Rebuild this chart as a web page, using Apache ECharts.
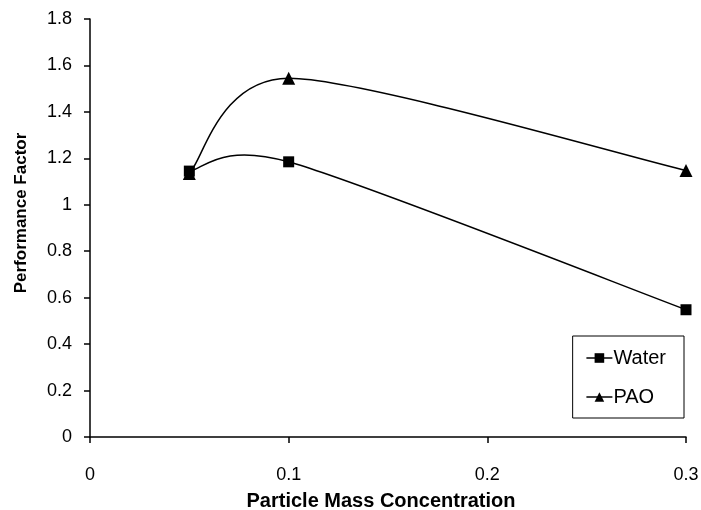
<!DOCTYPE html>
<html><head><meta charset="utf-8">
<script src="https://cdn.jsdelivr.net/npm/echarts@6/dist/echarts.min.js"></script>
<style>html,body{margin:0;padding:0;background:#fff}#c{width:701px;height:510px}</style>
</head><body><div id="c"></div>
<script>
const xValues = [0.05, 0.1, 0.3];
const waterValues = [1.145, 1.185, 0.548];
const paoValues = [1.135, 1.545, 1.148];
const xTicks = [0, 0.1, 0.2, 0.3];
const yTicks = [0, 0.2, 0.4, 0.6, 0.8, 1, 1.2, 1.4, 1.6, 1.8];
const font = 'Liberation Sans, Arial, sans-serif';

// Excel-style smoothed curve (Catmull-Rom Bezier) drawn through the chart's own coordinate system
function smoothRenderer(ys) {
  return function (params, api) {
    if (params.dataIndex !== 0) return null;
    const p = xValues.map((x, i) => api.coord([x, ys[i]]));
    const n = p.length;
    const k = 0.14;
    const children = [];
    for (let i = 0; i < n - 1; i++) {
      const p0 = p[Math.max(i - 1, 0)], p1 = p[i], p2 = p[i + 1], p3 = p[Math.min(i + 2, n - 1)];
      children.push({
        type: 'bezierCurve',
        shape: {
          x1: p1[0], y1: p1[1], x2: p2[0], y2: p2[1],
          cpx1: p1[0] + (p2[0] - p0[0]) * k, cpy1: p1[1] + (p2[1] - p0[1]) * k,
          cpx2: p2[0] - (p3[0] - p1[0]) * k, cpy2: p2[1] - (p3[1] - p1[1]) * k
        },
        style: { stroke: '#000', lineWidth: 1.5, fill: null }
      });
    }
    return { type: 'group', children };
  };
}

const chart = echarts.init(document.getElementById('c'));
chart.setOption({
  animation: false,
  backgroundColor: '#fff',
  grid: { left: 90, right: 15, top: 19, bottom: 73, outerBoundsMode: 'none', containLabel: false },
  xAxis: {
    type: 'value', min: 0, max: 0.3, interval: 0.1,
    name: 'Particle Mass Concentration', nameLocation: 'middle', nameGap: 54,
    nameTextStyle: { fontFamily: font, fontSize: 20, fontWeight: 'bold', color: '#000', padding: [0, 14, 0, 0] },
    axisLine: { show: true, lineStyle: { color: '#000', width: 1.5 } },
    axisTick: { show: true, inside: false, length: 6, lineStyle: { color: '#000', width: 1.5 } },
    axisLabel: { fontFamily: font, fontSize: 18, color: '#000', margin: 29,
      formatter: v => { const t = xTicks.find(x => Math.abs(x - v) < 1e-9); return t === undefined ? '' : String(t); } },
    splitLine: { show: false }
  },
  yAxis: {
    type: 'value', min: 0, max: 1.8, interval: 0.2,
    name: 'Performance Factor', nameLocation: 'middle', nameGap: 60,
    nameTextStyle: { fontFamily: font, fontSize: 17, fontWeight: 'bold', color: '#000', padding: [0, 0, 0, 30] },
    axisLine: { show: true, lineStyle: { color: '#000', width: 1.5 } },
    axisTick: { show: true, inside: false, length: 6, lineStyle: { color: '#000', width: 1.5 } },
    axisLabel: { fontFamily: font, fontSize: 18, color: '#000', margin: 18,
      formatter: v => { const t = yTicks.find(y => Math.abs(y - v) < 1e-9); return t === undefined ? '' : String(t); } },
    splitLine: { show: false }
  },
  legend: {
    orient: 'vertical', right: 17, top: 336,
    padding: [12, 18, 11, 13], itemGap: 19,
    borderColor: '#000', borderWidth: 1, backgroundColor: '#fff',
    itemWidth: 26, itemHeight: 12,
    lineStyle: { color: '#000', width: 1.5, opacity: 1 },
    textStyle: { fontFamily: font, fontSize: 20, color: '#000', padding: [0, 0, 0, -4] },
    data: ['Water', 'PAO']
  },
  series: [
    { name: 'Water', type: 'line',
      data: xValues.map((x, i) => [x, waterValues[i]]),
      symbol: 'rect', symbolSize: 11, z: 5,
      lineStyle: { color: '#000', width: 1.5, opacity: 0 }, itemStyle: { color: '#000' } },
    { name: 'PAO', type: 'line',
      data: xValues.map((x, i) => [x, paoValues[i]]),
      symbol: 'triangle', symbolSize: 13, z: 5,
      lineStyle: { color: '#000', width: 1.5, opacity: 0 }, itemStyle: { color: '#000' } },
    { name: 'WaterCurve', type: 'custom', z: 4,
      data: xValues.map((x, i) => [x, waterValues[i]]),
      renderItem: smoothRenderer(waterValues) },
    { name: 'PAOCurve', type: 'custom', z: 4,
      data: xValues.map((x, i) => [x, paoValues[i]]),
      renderItem: smoothRenderer(paoValues) }
  ]
});
</script></body></html>
